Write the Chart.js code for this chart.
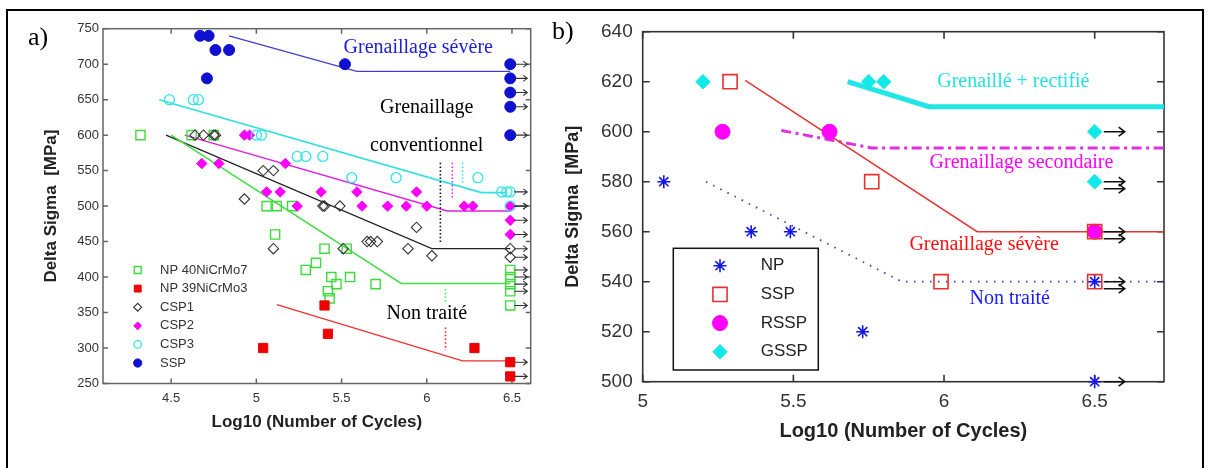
<!DOCTYPE html>
<html>
<head>
<meta charset="utf-8">
<script src="https://cdn.jsdelivr.net/npm/chart.js@4.4.1/dist/chart.umd.min.js"></script>
<style>
  html, body { margin: 0; padding: 0; background: #fff; }
  #fig { position: relative; width: 1210px; height: 468px; overflow: hidden; }
  #frame { position: absolute; left: 6px; top: 9px; width: 1198px; height: 480px; border: 2px solid #000; box-sizing: border-box; pointer-events: none; }
  canvas { position: absolute; top: 0; }
  #chartA { left: 0; }
  #chartB { left: 545px; }
  .tag { position: absolute; font-family: "Liberation Serif", serif; font-size: 26px; line-height: 26px; color: #000; }
</style>
</head>
<body>
<div id="fig">
  <canvas id="chartA" width="545" height="468"></canvas>
  <canvas id="chartB" width="665" height="468"></canvas>
  <div class="tag" style="left:28px;top:24px">a)</div>
  <div class="tag" style="left:552px;top:18px">b)</div>
  <div id="frame"></div>
</div>
<script>
// =============================================
// Fatigue curves -- Delta Sigma vs Log10(N)
// a) steels / shot peening, b) NP / SSP / RSSP / GSSP
// =============================================

// ---- panel a) ticks ----
var ticksAX = [4.5, 5, 5.5, 6, 6.5];
var ticksAY = [250, 300, 350, 400, 450, 500, 550, 600, 650, 700, 750];

// ---- panel a) points ----
var np40X = [4.32, 4.62, 4.75, 5.06, 5.12, 5.21, 5.11, 5.40, 5.53, 5.35, 5.29, 5.44, 5.47, 5.55, 5.42, 5.43, 5.70, 6.49, 6.49, 6.49, 6.49, 6.49];
var np40Y = [600, 600, 600, 500, 500, 500, 460, 440, 440, 420, 410, 400, 390, 400, 380, 370, 390, 410, 400, 390, 380, 360];
var np39X = [5.04, 5.40, 5.42, 6.28, 6.49, 6.49];
var np39Y = [300, 360, 320, 300, 280, 260];
var csp1X = [4.64, 4.69, 4.75, 4.76, 4.93, 5.04, 5.10, 5.10, 5.39, 5.40, 5.49, 5.51, 5.65, 5.67, 5.71, 5.89, 5.94, 6.03, 6.49, 6.49];
var csp1Y = [600, 600, 600, 600, 510, 550, 550, 440, 500, 500, 500, 440, 450, 450, 450, 440, 470, 430, 440, 428];
var csp2X = [4.68, 4.78, 4.93, 4.96, 5.17, 5.06, 5.14, 5.24, 5.38, 5.59, 5.94, 5.62, 5.77, 5.88, 6.00, 6.22, 6.27, 6.49, 6.49, 6.49];
var csp2Y = [560, 560, 600, 600, 560, 520, 520, 500, 520, 520, 520, 500, 500, 500, 500, 500, 500, 500, 480, 460];
var csp3X = [4.49, 4.63, 4.66, 5.00, 5.03, 5.24, 5.29, 5.39, 5.56, 5.82, 6.30, 6.44, 6.47, 6.49, 6.49];
var csp3Y = [650, 650, 650, 600, 600, 570, 570, 570, 540, 540, 540, 520, 520, 520, 500];
var sspAX = [4.67, 4.72, 4.71, 4.76, 4.84, 5.52, 6.49, 6.49, 6.49, 6.49, 6.49];
var sspAY = [740, 740, 680, 720, 720, 700, 700, 680, 660, 640, 600];

// ---- panel a) fitted curves ----
var np40LineX = [4.50, 5.85, 6.49];  var np40LineY = [600, 391, 391];
var np39LineX = [5.12, 6.21, 6.49];  var np39LineY = [361, 282, 282];
var csp1LineX = [4.47, 6.03, 6.49];  var csp1LineY = [600, 440, 440];
var csp2LineX = [4.58, 6.12, 6.49];  var csp2LineY = [600, 493, 493];
var csp3LineX = [4.43, 6.32, 6.47];  var csp3LineY = [650, 519, 519];
var sspALineX = [4.84, 5.59, 6.49];  var sspALineY = [740, 690, 690];

// ---- panel a) dotted knee markers (x, y from, y to) ----
var kneeX  = [6.08, 6.15, 6.21, 6.11, 6.11];
var kneeY0 = [561, 561, 561, 383, 329];
var kneeY1 = [449, 509, 532, 362, 297];

// ---- panel b) ticks ----
var ticksBX = [5, 5.5, 6, 6.5];
var ticksBY = [500, 520, 540, 560, 580, 600, 620, 640];

// ---- panel b) points ----
var npX   = [5.07, 5.36, 5.49, 5.73, 6.5, 6.5];
var npY   = [580, 560, 560, 520, 540, 500];
var sspX  = [5.29, 5.76, 5.99, 6.5, 6.5];
var sspY  = [620, 580, 540, 560, 540];
var rsspX = [5.265, 5.62, 6.5];
var rsspY = [600, 600, 560];
var gsspX = [5.20, 5.75, 5.80, 6.5, 6.5, 6.5];
var gsspY = [620, 620, 620, 600, 580, 580];

// ---- panel b) fitted curves ----
var npLineX   = [5.21, 5.86, 6.73];  var npLineY   = [580, 540, 540];
var sspLineX  = [5.34, 6.11, 6.73];  var sspLineY  = [620.5, 560, 560];
var rsspLineX = [5.46, 5.76, 6.73];  var rsspLineY = [600.5, 593.5, 593.5];
var gsspLineX = [5.68, 5.95, 6.73];  var gsspLineY = [620, 610, 610];

function pts(xs, ys) {
  return xs.map(function (x, i) { return { x: x, y: ys[i] }; });
}

Chart.defaults.font.family = "'Liberation Sans', Arial, sans-serif";
Chart.defaults.animation = false;

// ---- plugin: MATLAB style box with inward ticks ----
var frameTicks = {
  id: "frameTicks",
  beforeDatasetsDraw: function (chart, args, opts) {
    var ctx = chart.ctx, a = chart.chartArea, sx = chart.scales.x, sy = chart.scales.y;
    ctx.save();
    ctx.strokeStyle = opts.color;
    ctx.lineWidth = opts.width;
    ctx.strokeRect(a.left, a.top, a.right - a.left, a.bottom - a.top);
    ctx.beginPath();
    sx.ticks.forEach(function (t) {
      var px = sx.getPixelForValue(t.value);
      ctx.moveTo(px, a.bottom); ctx.lineTo(px, a.bottom - opts.len);
      ctx.moveTo(px, a.top); ctx.lineTo(px, a.top + opts.len);
    });
    sy.ticks.forEach(function (t) {
      var py = sy.getPixelForValue(t.value);
      ctx.moveTo(a.left, py); ctx.lineTo(a.left + opts.len, py);
      ctx.moveTo(a.right, py); ctx.lineTo(a.right - opts.len, py);
    });
    ctx.stroke();
    ctx.restore();
  }
};

// ---- plugin: run-out arrows on specimens that did not break ----
var runoutArrows = {
  id: "runoutArrows",
  afterDatasetsDraw: function (chart, args, opts) {
    var ctx = chart.ctx, sx = chart.scales.x, sy = chart.scales.y, used = [];
    ctx.save();
    ctx.strokeStyle = opts.color;
    ctx.lineWidth = opts.width;
    chart.data.datasets.forEach(function (ds) {
      if (!ds.runout) return;
      ds.data.forEach(function (p) {
        if (p.x < opts.from) return;
        var px = sx.getPixelForValue(p.x), py = sy.getPixelForValue(p.y);
        var n = used.filter(function (u) { return Math.abs(u - py) < 2; }).length;
        used.push(py);
        py += n * opts.stack;
        var x0 = px + opts.gap, x1 = x0 + opts.len, h = opts.head;
        ctx.beginPath();
        ctx.moveTo(x0, py); ctx.lineTo(x1, py);
        ctx.moveTo(x1 - h, py - h * 0.75); ctx.lineTo(x1, py); ctx.lineTo(x1 - h, py + h * 0.75);
        ctx.stroke();
      });
    });
    ctx.restore();
  }
};

// ---- plugin factory: text notes in data coords ----
function notesPlugin(items, font) {
  return {
    id: "notes",
    afterDatasetsDraw: function (chart) {
      var ctx = chart.ctx, sx = chart.scales.x, sy = chart.scales.y;
      ctx.save();
      ctx.font = font;
      ctx.textAlign = "center";
      ctx.textBaseline = "middle";
      items.forEach(function (n) {
        ctx.fillStyle = n.color;
        ctx.fillText(n.text, sx.getPixelForValue(n.x), sy.getPixelForValue(n.y));
      });
      ctx.restore();
    }
  };
}

// ---- plugin factory: legend drawn inside the plot ----
function legendPlugin(cfg) {
  return {
    id: "innerLegend",
    afterDraw: function (chart) {
      var ctx = chart.ctx, a = chart.chartArea;
      ctx.save();
      if (cfg.box) {
        ctx.strokeStyle = "#111";
        ctx.lineWidth = 1.5;
        ctx.strokeRect(a.left + cfg.box[0], a.top + cfg.box[1], cfg.box[2], cfg.box[3]);
      }
      ctx.font = cfg.font;
      ctx.textBaseline = "middle";
      ctx.textAlign = "left";
      var row = 0;
      chart.data.datasets.forEach(function (ds) {
        if (!ds.inLegend) return;
        var y = a.top + cfg.y0 + row * cfg.step;
        ctx.fillStyle = ds.backgroundColor;
        ctx.strokeStyle = ds.borderColor;
        ctx.lineWidth = ds.borderWidth;
        Chart.helpers.drawPoint(ctx, {
          pointStyle: ds.pointStyle, radius: ds.pointRadius * cfg.scale,
          rotation: 0, borderWidth: ds.borderWidth
        }, a.left + cfg.mx, y);
        ctx.fillStyle = cfg.color;
        ctx.fillText(ds.label, a.left + cfg.tx, y);
        row++;
      });
      ctx.restore();
    }
  };
}

function pointSet(label, xs, ys, style, r, fill, stroke, bw, order) {
  return {
    label: label, data: pts(xs, ys), pointStyle: style, pointRadius: r,
    backgroundColor: fill, borderColor: stroke, borderWidth: bw,
    showLine: false, order: order, clip: false, runout: true, inLegend: true
  };
}
function lineSet(xs, ys, color, w, dash, order) {
  return {
    label: "", data: pts(xs, ys), showLine: true, pointRadius: 0,
    borderColor: color, backgroundColor: color, borderWidth: w,
    borderDash: dash || [], order: order || 10, clip: false
  };
}

function axisX(min, max, ticks, h, tickFont, pad, titleFont, titlePad) {
  return {
    type: "linear", min: min, max: max,
    afterBuildTicks: function (s) { s.ticks = ticks.map(function (v) { return { value: v }; }); },
    afterFit: function (s) { s.height = h; },
    grid: { display: false, drawTicks: false }, border: { display: false },
    ticks: { autoSkip: false, maxRotation: 0, padding: pad, color: "#333", font: { size: tickFont },
             callback: function (v) { return String(v); } },
    title: { display: true, text: "Log10 (Number of Cycles)", color: "#222",
             font: { size: titleFont, weight: "bold" }, padding: { top: 0, bottom: titlePad } }
  };
}
function axisY(min, max, ticks, w, tickFont, pad, titleFont, titlePad) {
  return {
    type: "linear", min: min, max: max,
    afterBuildTicks: function (s) { s.ticks = ticks.map(function (v) { return { value: v }; }); },
    afterFit: function (s) { s.width = w; },
    grid: { display: false, drawTicks: false }, border: { display: false },
    ticks: { autoSkip: false, padding: pad, color: "#333", font: { size: tickFont },
             callback: function (v) { return String(v); } },
    title: { display: true, text: "Delta Sigma  [MPa]", color: "#222",
             font: { size: titleFont, weight: "bold" }, padding: { top: titlePad, bottom: 0 } }
  };
}

// ---- CHART a) ----
var notesA = [
  { text: "Grenaillage sévère", x: 5.95, y: 723, color: "#2020d8" },
  { text: "Grenaillage", x: 6.0, y: 638, color: "#000" },
  { text: "conventionnel", x: 6.0, y: 585, color: "#000" },
  { text: "Non traité", x: 6.0, y: 348, color: "#000" }
];
var kneeColors = ["#111", "#ff22ff", "#22e6e6", "#44ee44", "#ff2020"];
var dsA = [
  pointSet("NP 40NiCrMo7", np40X, np40Y, "rect", 6.5, "rgba(0,0,0,0)", "#3ddc3d", 1.4, 6),
  pointSet("NP 39NiCrMo3", np39X, np39Y, "rect", 6.5, "#ee0000", "#ee0000", 1, 5),
  pointSet("CSP1", csp1X, csp1Y, "rectRot", 5.2, "rgba(0,0,0,0)", "#333", 1.1, 4),
  pointSet("CSP2", csp2X, csp2Y, "rectRot", 5.2, "#ff00ff", "#ff00ff", 1, 3),
  pointSet("CSP3", csp3X, csp3Y, "circle", 5, "rgba(0,0,0,0)", "#33e4e4", 1.3, 2),
  pointSet("SSP", sspAX, sspAY, "circle", 5.5, "#1010d0", "#1010d0", 1, 1),
  lineSet(np40LineX, np40LineY, "#44dd44", 1.5),
  lineSet(np39LineX, np39LineY, "#ee3030", 1.3),
  lineSet(csp1LineX, csp1LineY, "#222", 1.2),
  lineSet(csp2LineX, csp2LineY, "#e020e0", 1.5),
  lineSet(csp3LineX, csp3LineY, "#33e0e0", 1.6),
  lineSet(sspALineX, sspALineY, "#4040c8", 1.3)
];
kneeX.forEach(function (x, i) {
  dsA.push(lineSet([x, x], [kneeY0[i], kneeY1[i]], kneeColors[i], 1.6, [1.5, 2.2], 9));
});

new Chart(document.getElementById("chartA"), {
  type: "scatter",
  data: { datasets: dsA },
  options: {
    responsive: false,
    layout: { padding: { left: 0, top: 28.7, right: 14.3, bottom: 0 } },
    plugins: {
      legend: { display: false }, tooltip: { enabled: false },
      frameTicks: { color: "#666", width: 1.5, len: 5 },
      runoutArrows: { from: 6.485, gap: 4, len: 13, head: 4, stack: 0, color: "#333", width: 1.1 }
    },
    scales: {
      x: axisX(4.1, 6.61, ticksAX, 84.5, 13, 7, 17, 35),
      y: axisY(250, 750, ticksAY, 103, 13, 4, 17, 41)
    }
  },
  plugins: [frameTicks, runoutArrows,
    notesPlugin(notesA, "20px 'Liberation Serif', serif"),
    legendPlugin({ font: "13px 'Liberation Sans', Arial", color: "#333", mx: 34.7, tx: 57, y0: 241.3, step: 18.6, scale: 0.75 })]
});

// ---- CHART b) ----
var notesB = [
  { text: "Grenaillé + rectifié", x: 6.23, y: 620, color: "#22e2e2" },
  { text: "Grenaillage secondaire", x: 6.257, y: 587.4, color: "#ff00ff" },
  { text: "Grenaillage sévère", x: 6.133, y: 554.7, color: "#ff1010" },
  { text: "Non traité", x: 6.218, y: 533, color: "#1a1aff" }
];
var dsB = [
  pointSet("NP", npX, npY, "star", 6.5, "#1515e6", "#1515e6", 1.6, 1),
  pointSet("SSP", sspX, sspY, "rect", 10, "rgba(0,0,0,0)", "#e83030", 1.6, 2),
  pointSet("RSSP", rsspX, rsspY, "circle", 7.5, "#ff00ff", "#ff00ff", 1, 3),
  pointSet("GSSP", gsspX, gsspY, "rectRot", 7.2, "#11e8e8", "#11e8e8", 1, 4),
  lineSet(npLineX, npLineY, "#4646c8", 1.8, [1.6, 6.4]),
  lineSet(sspLineX, sspLineY, "#e63535", 1.5),
  lineSet(rsspLineX, rsspLineY, "#e030e0", 3, [10, 4.5, 3, 4.5]),
  lineSet(gsspLineX, gsspLineY, "#22e6e6", 5)
];

new Chart(document.getElementById("chartB"), {
  type: "scatter",
  data: { datasets: dsB },
  options: {
    responsive: false,
    layout: { padding: { left: 0, top: 31.7, right: 46, bottom: 0 } },
    plugins: {
      legend: { display: false }, tooltip: { enabled: false },
      frameTicks: { color: "#333", width: 1.6, len: 7 },
      runoutArrows: { from: 6.5, gap: 9, len: 21, head: 6, stack: 7, color: "#111", width: 1.6 }
    },
    scales: {
      x: axisX(5, 6.73, ticksBX, 86.3, 19, 9, 20, 25),
      y: axisY(500, 640, ticksBY, 97.7, 19, 10, 18, 17.7)
    }
  },
  plugins: [frameTicks, runoutArrows,
    notesPlugin(notesB, "20px 'Liberation Serif', serif"),
    legendPlugin({ box: [30.6, 216.6, 145, 121.7], font: "17px 'Liberation Sans', Arial", color: "#222",
                   mx: 77.3, tx: 118, y0: 234, step: 28.7, scale: 1 })]
});
</script>
</body>
</html>
